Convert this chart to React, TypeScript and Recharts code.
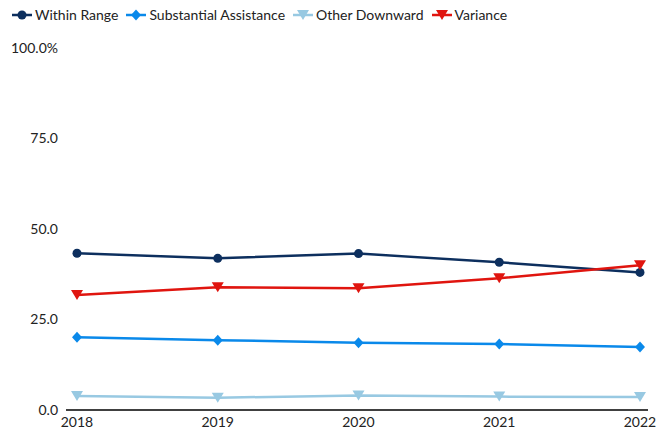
import React from 'react';
import { LineChart, Line, XAxis, YAxis } from 'recharts';

const years = ['2018', '2019', '2020', '2021', '2022'];
const withinRange = [43.3, 41.9, 43.2, 40.8, 38.0];
const substantialAssistance = [20.1, 19.3, 18.6, 18.2, 17.4];
const otherDownward = [3.9, 3.4, 4.0, 3.7, 3.6];
const variance = [31.8, 33.9, 33.6, 36.4, 40.0];
const yTicks = [0, 25, 50, 75, 100];

const data = years.map((year, i) => ({
  year,
  within: withinRange[i],
  substantial: substantialAssistance[i],
  other: otherDownward[i],
  variance: variance[i],
}));

const FONT = 'Lato, "Open Sans", sans-serif';

type Shape = 'circle' | 'diamond' | 'triangle';

const Marker = ({ shape, cx, cy, color }: { shape: Shape; cx: number; cy: number; color: string }) => {
  if (shape === 'circle') return <circle cx={cx} cy={cy} r={4.5} fill={color} />;
  if (shape === 'diamond')
    return <path d={`M${cx},${cy - 5.5}L${cx + 5},${cy}L${cx},${cy + 5.5}L${cx - 5},${cy}Z`} fill={color} />;
  return <path d={`M${cx - 6},${cy - 5}L${cx + 6},${cy - 5}L${cx},${cy + 5}Z`} fill={color} />;
};

const series = [
  { key: 'within', name: 'Within Range', color: '#0d2f5e', shape: 'circle' as Shape },
  { key: 'substantial', name: 'Substantial Assistance', color: '#0a89ea', shape: 'diamond' as Shape },
  { key: 'other', name: 'Other Downward', color: '#98c9e2', shape: 'triangle' as Shape },
  { key: 'variance', name: 'Variance', color: '#e0150f', shape: 'triangle' as Shape },
];

const ChartLegend = () => (
  <div style={{ display: 'flex', gap: 8, fontFamily: FONT, fontSize: 14, color: '#222', alignItems: 'center' }}>
    {series.map((s) => (
      <div key={s.key} style={{ display: 'flex', alignItems: 'center', gap: 3 }}>
        <svg width={20} height={12}>
          <line x1={0} y1={6} x2={20} y2={6} stroke={s.color} strokeWidth={2.5} />
          <Marker shape={s.shape} cx={10} cy={6} color={s.color} />
        </svg>
        <span>{s.name}</span>
      </div>
    ))}
  </div>
);

export default function App() {
  return (
    <div style={{ position: 'absolute', left: 0, top: 0, width: 668, height: 432, background: '#fff' }}>
      <div style={{ position: 'absolute', left: 12, top: 6 }}>
        <ChartLegend />
      </div>
      <LineChart width={668} height={432} data={data} margin={{ top: 48, right: 20, bottom: 0, left: 6 }}>
        <XAxis
          dataKey="year"
          padding={{ left: 11, right: 8 }}
          axisLine={{ stroke: '#000', strokeWidth: 1.5 }}
          tickLine={false}
          tickSize={0}
          tickMargin={7}
          height={22}
          tick={{ fill: '#222', fontSize: 14, fontFamily: FONT }}
          interval={0}
        />
        <YAxis
          domain={[0, 100]}
          ticks={yTicks}
          width={60}
          axisLine={false}
          tickLine={false}
          tickSize={0}
          tickMargin={8}
          tick={{ fill: '#222', fontSize: 14, fontFamily: FONT }}
          tickFormatter={(v: number) => (v === 100 ? '100.0%' : v.toFixed(1))}
        />
        {series.map((s) => (
          <Line
            key={s.key}
            dataKey={s.key}
            name={s.name}
            stroke={s.color}
            strokeWidth={2.5}
            isAnimationActive={false}
            activeDot={false}
            dot={(p: any) => <Marker key={`${s.key}-${p.index}`} shape={s.shape} cx={p.cx} cy={p.cy} color={s.color} />}
          />
        ))}
      </LineChart>
    </div>
  );
}
